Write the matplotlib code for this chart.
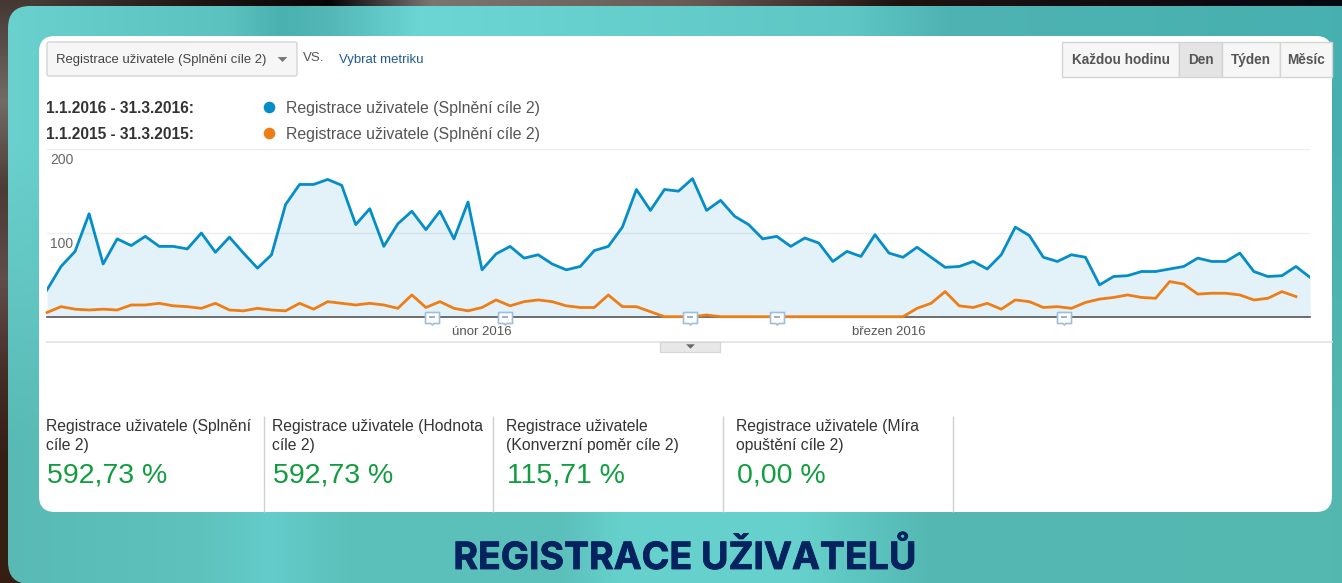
import numpy as np
import matplotlib
matplotlib.use("Agg")
import matplotlib.pyplot as plt
import matplotlib.patheffects as pe
from matplotlib.patches import FancyBboxPatch, Rectangle
from matplotlib.path import Path
from matplotlib.transforms import ScaledTranslation

W, H = 1342, 583

# values, one per day
blue_2016 = [32, 60, 78, 123, 63, 93, 85, 96, 84, 84, 81, 100, 77, 95, 76, 58, 74, 134, 158, 158,
             164, 157, 110, 129, 84, 111, 126, 104, 126, 93, 137, 56, 75, 84, 70, 74, 63, 56, 60, 79,
             84, 107, 152, 127, 152, 150, 165, 127, 139, 120, 110, 93, 96, 84, 94, 88, 66, 78, 72, 98,
             76, 71, 83, 71, 59, 60, 66, 57, 74, 107, 97, 71, 66, 74, 71, 38, 48, 49, 54, 54,
             57, 60, 70, 66, 66, 76, 54, 48, 49, 60, 47]
orange_2015 = [5, 12, 9, 8, 9, 8, 14, 14, 16, 13, 12, 10, 16, 8, 7, 10, 8, 7, 16, 9,
               18, 16, 14, 16, 14, 10, 26, 11, 18, 10, 7, 11, 20, 13, 18, 20, 18, 13, 11, 11,
               26, 12, 12, 6, 0, 0, 0, 2, 0, 0, 0, 0, 0, 0, 0, 0, 0, 0, 0, 0,
               0, 0, 10, 16, 30, 13, 11, 16, 9, 20, 18, 11, 12, 10, 17, 21, 23, 26, 23, 22,
               42, 39, 27, 28, 28, 26, 20, 22, 30, 24]
note_days = [27.45, 32.65, 45.8, 52, 72.5]
month_days = [31, 60]
month_labels = ["únor 2016", "březen 2016"]
y_ticks = [100, 200]

date_labels = ["1.1.2016 - 31.3.2016:", "1.1.2015 - 31.3.2015:"]
metric = "Registrace uživatele (Splnění cíle 2)"
buttons = ["Každou hodinu", "Den", "Týden", "Měsíc"]
stat_titles = ["Registrace uživatele (Splnění\ncíle 2)", "Registrace uživatele (Hodnota\ncíle 2)",
               "Registrace uživatele\n(Konverzní poměr cíle 2)", "Registrace uživatele (Míra\nopuštění cíle 2)"]
stat_values = ["592,73 %", "592,73 %", "115,71 %", "0,00 %"]

BLUE = "#058dc7"
ORANGE = "#ed7e17"

plt.rcParams["font.family"] = ["Liberation Sans", "DejaVu Sans"]

fig = plt.figure(figsize=(W / 100, H / 100), dpi=100)

# page furniture, drawn in pixel coordinates
bg = fig.add_axes([0, 0, 1, 1], zorder=0)
bg.axis("off")

def ramp(stops, size):
    pos, cols = zip(*stops)
    cols = np.array(cols)
    t = np.linspace(pos[0], pos[-1], size)
    return np.stack([np.interp(t, pos, cols[:, k]) for k in range(3)], axis=-1)

# dark photo behind the card: a strip along the top, a strip down the left
top_dark = ramp([(0, (.30, .26, .25)), (200, (.12, .08, .08)), (330, (.03, .02, .03)), (430, (.48, .46, .45)),
                 (700, (.40, .35, .33)), (900, (.12, .07, .07)), (1342, (.02, .03, .07))], 300)
left_dark = ramp([(0, (.27, .22, .20)), (100, (.45, .42, .40)), (190, (.30, .23, .21)), (280, (.38, .30, .29)),
                  (380, (.27, .17, .15)), (460, (.21, .12, .08)), (583, (.21, .12, .07))], 300)
bg.imshow(top_dark[None, :, :], extent=(0, W, 20, 0), aspect="auto", interpolation="bilinear", zorder=0)
bg.imshow(left_dark[:, None, :], extent=(0, 30, H, 0), aspect="auto", interpolation="bilinear", zorder=0.5)

# teal card with its soft light bands
teal_top = ramp([(0, (.42, .82, .81)), (230, (.36, .76, .75)), (280, (.29, .69, .69)), (330, (.33, .72, .72)),
                 (420, (.42, .84, .83)), (850, (.37, .78, .77)), (950, (.31, .70, .70)), (1342, (.28, .69, .69))], 300)
teal_bot = ramp([(0, (.35, .73, .71)), (200, (.37, .76, .74)), (270, (.39, .80, .79)), (350, (.36, .75, .73)),
                 (560, (.36, .75, .73)), (620, (.40, .82, .80)), (800, (.40, .82, .80)), (930, (.33, .72, .70)),
                 (1342, (.33, .72, .69))], 300)
teal = np.stack([teal_top, teal_bot])
im = bg.imshow(teal, extent=(0, W, H, 0), aspect="auto", interpolation="bilinear", zorder=1)
r = 22
card = FancyBboxPatch((8 + r, 6 + r), W + 40, 578 - 2 * r, boxstyle=f"round,pad={r},rounding_size={r}",
                      fc="none", ec="none")
bg.add_patch(card)
im.set_clip_path(card)
bg.set_xlim(0, W)
bg.set_ylim(H, 0)

panel = FancyBboxPatch((53, 50), 1265, 448, boxstyle="round,pad=14,rounding_size=16",
                       fc="white", ec="none", zorder=2)
bg.add_patch(panel)

# metric dropdown
tri = Path([(-1, .5), (1, .5), (0, -.5), (-1, .5)])
bg.add_patch(FancyBboxPatch((47, 42), 250, 34, boxstyle="round,pad=0,rounding_size=2", fc="#f6f6f6", ec="#d4d4d4", lw=1, zorder=3))
bg.text(56, 60, metric, fontsize=9.45, color="#444444", va="center", zorder=4)
bg.scatter([282], [59], marker=tri, s=50, color="#777777", zorder=4, linewidths=0)
bg.text(303, 58, "VS.", fontsize=9.5, color="#555555", va="center", zorder=4)
bg.text(339, 60, "Vybrat metriku", fontsize=9.45, color="#1f5c94", va="center", zorder=4)

# interval buttons
btn_x = [1062, 1179, 1222, 1280, 1332]
for i, name in enumerate(buttons):
    fc = "#e4e4e4" if name == "Den" else "#f6f6f6"
    bg.add_patch(Rectangle((btn_x[i], 42), btn_x[i + 1] - btn_x[i], 35, fc=fc, ec="#d4d4d4", lw=1, zorder=3))
    bg.text((btn_x[i] + btn_x[i + 1]) / 2, 60, name, fontsize=9.8, fontweight="bold", color="#555555",
            ha="center", va="center", zorder=4)

# legend
for y, lab, col in zip([107, 133], date_labels, [BLUE, ORANGE]):
    bg.text(46, y + 1.5, lab, fontsize=11.2, fontweight="bold", color="#333333", va="center", zorder=4)
    bg.scatter([269], [y], s=70, color=col, linewidths=0, zorder=4)
    bg.text(286, y + 1, metric, fontsize=11.4, color="#555555", va="center", zorder=4)

# line under the chart with its little drawer handle
bg.plot([47, 1332], [342, 342], color="#e2e2e2", lw=1.2, zorder=3)
bg.add_patch(Rectangle((660, 342), 60, 10, fc="#e8e8e8", ec="#d4d4d4", lw=.8, zorder=3))
bg.scatter([690], [346], marker=tri, s=40, color="#666666", linewidths=0, zorder=4)

# stats row
stat_x = [46, 272, 506, 736]
for x, title, val in zip(stat_x, stat_titles, stat_values):
    bg.text(x, 436, title, fontsize=11.3, color="#333333", va="center", linespacing=1.33, zorder=4)
    bg.text(x + 1, 476, val, fontsize=20.5, color="#0f9d3f", va="center", zorder=4)
for x in [264, 493, 723, 953]:
    bg.plot([x, x], [416, 512], color="#d0d0d0", lw=1, zorder=3, solid_capstyle="butt")

title = bg.text(685, 558, "REGISTRACE UŽIVATELŮ", fontsize=27, fontweight="bold", family="Inter",
                color="#06225f", ha="center", va="center", zorder=4)
title.set_path_effects([pe.withStroke(linewidth=.6, foreground="#06225f")])

# the chart itself
ax = fig.add_axes([47 / W, 1 - 316.7 / H, (1310 - 47) / W, (316.7 - 149.3) / H], zorder=5)
ax.patch.set_alpha(0)
days = np.arange(len(blue_2016))
ax.fill_between(days, blue_2016, 0, color=BLUE, alpha=.11, lw=0)
ax.plot(days, blue_2016, color=BLUE, lw=2, zorder=3)
ax.plot(np.arange(len(orange_2015)), orange_2015, color=ORANGE, lw=2, zorder=4, clip_on=False)
ax.set_xlim(0, 90)
ax.set_ylim(0, 200)
ax.yaxis.grid(True, color="#eeeeee", lw=1)
ax.set_axisbelow(True)
for s in ["top", "left", "right"]:
    ax.spines[s].set_visible(False)
ax.spines["bottom"].set_color("#555555")
ax.spines["bottom"].set_linewidth(1.2)
ax.set_xticks(month_days)
ax.set_xticklabels(month_labels, fontsize=9.5, color="#555555")
ax.set_yticks(y_ticks)
ax.set_yticklabels([str(v) for v in y_ticks], fontsize=10, color="#666666")
ax.tick_params(axis="x", length=0, pad=6.5)
ax.tick_params(axis="y", length=0, direction="in", pad=-2)
shift = ScaledTranslation(0, -2.7 / 72, fig.dpi_scale_trans)
for lab in ax.get_yticklabels():
    lab.set_horizontalalignment("left")
    lab.set_verticalalignment("top")
    lab.set_transform(lab.get_transform() + shift)

# annotation bubbles on the baseline
bubble = Path([(-7, 5), (7, 5), (7, -6), (1.5, -6), (0, -7.5), (-1.5, -6), (-7, -6), (-7, 5)])
zeros = np.zeros(len(note_days))
ax.scatter(note_days, zeros, marker=bubble, s=117, fc="white", ec="#9dbedd", lw=1.2, clip_on=False, zorder=6)
ax.scatter(note_days, zeros, marker="_", s=22, color="#8aa0b5", lw=1.2, clip_on=False, zorder=7)

fig.savefig("out.png", dpi=100)
